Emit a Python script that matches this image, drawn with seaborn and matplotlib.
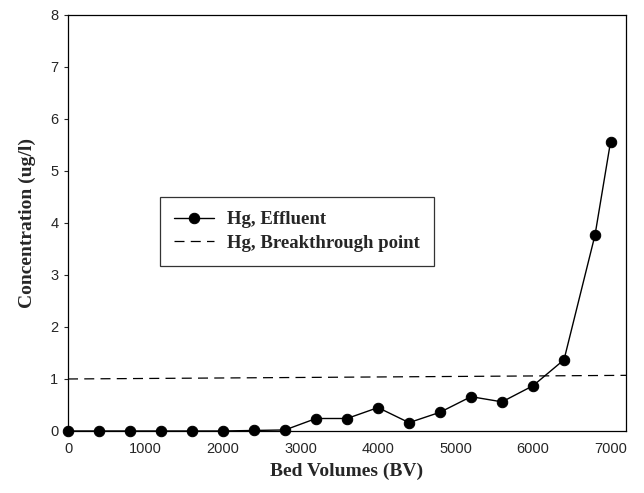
import matplotlib
matplotlib.use("Agg")
import matplotlib.pyplot as plt
import seaborn as sns
import pandas as pd

bed_volumes = [0, 400, 800, 1200, 1600, 2000, 2400, 2800, 3200, 3600, 4000,
               4400, 4800, 5200, 5600, 6000, 6400, 6800, 7000]
hg_effluent = [0.0, 0.0, 0.0, 0.0, 0.0, 0.0, 0.01, 0.02, 0.24, 0.24, 0.45,
               0.16, 0.36, 0.66, 0.56, 0.87, 1.37, 3.77, 5.56]
breakthrough_x = [0, 7200]
breakthrough_y = [1.0, 1.07]

sns.set_theme(style="ticks")
plt.rcParams["font.family"] = ["Liberation Sans", "DejaVu Sans"]

fig = plt.figure(figsize=(6.44, 4.93), dpi=100)
ax = fig.add_axes([0.1056, 0.1258, 0.8665, 0.8438])

df = pd.DataFrame({"bv": bed_volumes, "hg": hg_effluent})
sns.lineplot(data=df, x="bv", y="hg", ax=ax, color="black", linewidth=1.0,
             marker="o", markersize=7.5, markeredgecolor="black",
             markerfacecolor="black", label="Hg, Effluent", clip_on=False)
bdf = pd.DataFrame({"bv": breakthrough_x, "c": breakthrough_y})
sns.lineplot(data=bdf, x="bv", y="c", ax=ax, color="black", linewidth=0.9,
             linestyle=(0, (8, 5)), label="Hg, Breakthrough point")

ax.set_xlim(0, 7200)
ax.set_ylim(0, 8)
ax.set_xticks([0, 1000, 2000, 3000, 4000, 5000, 6000, 7000])
ax.set_yticks([0, 1, 2, 3, 4, 5, 6, 7, 8])
ax.tick_params(axis="x", length=0, pad=8, labelsize=10.5)
ax.tick_params(axis="y", length=3, width=0.8, direction="out", pad=4, labelsize=10.5)
for s in ax.spines.values():
    s.set_color("black")
    s.set_linewidth(0.9)

serif = ["Liberation Serif", "DejaVu Serif"]
ax.set_xlabel("Bed Volumes (BV)", fontsize=14, fontweight="bold", family=serif, labelpad=5)
ax.set_ylabel("Concentration (ug/l)", fontsize=14, fontweight="bold", family=serif, labelpad=10)

leg = ax.legend(loc="upper left", bbox_to_anchor=(0.165, 0.5625), borderaxespad=0,
                frameon=True, fancybox=False, edgecolor="black", handlelength=2.1,
                borderpad=0.75, labelspacing=0.35, handletextpad=0.7,
                prop={"family": serif, "weight": "bold", "size": 13.5})
leg.get_frame().set_linewidth(0.9)

fig.savefig("out.png", dpi=100)
